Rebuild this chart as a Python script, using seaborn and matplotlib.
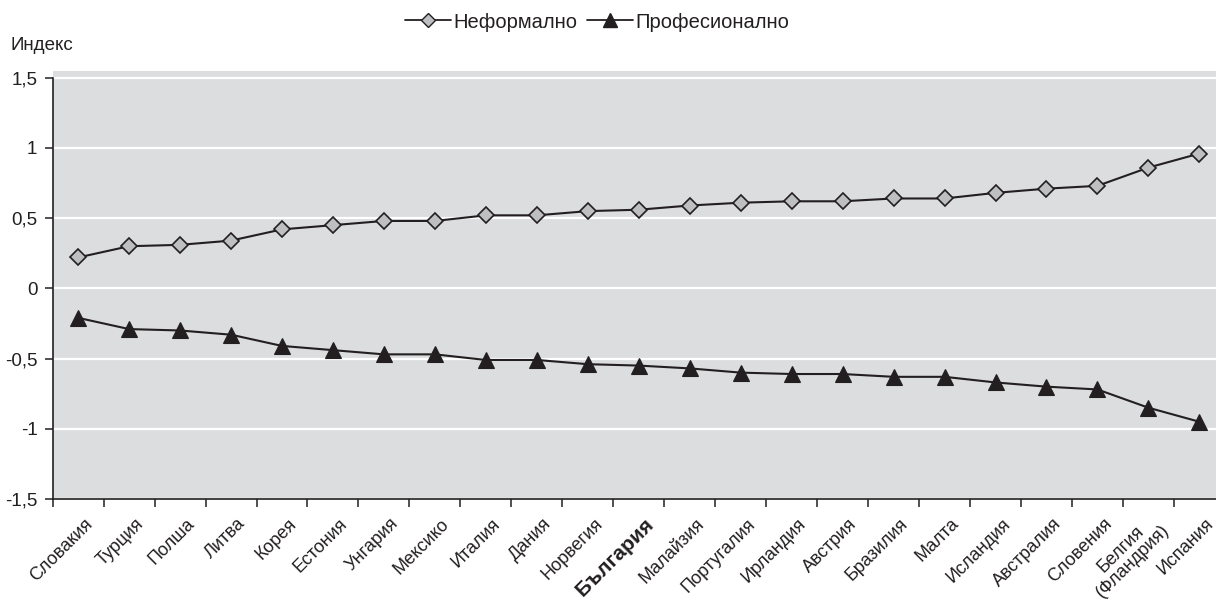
import numpy as np
import pandas as pd
import matplotlib
matplotlib.use("Agg")
import matplotlib.pyplot as plt
import matplotlib.transforms as mtransforms
from matplotlib.lines import Line2D
from matplotlib.ticker import FixedLocator, FuncFormatter
import seaborn as sns

countries = [
    "Словакия", "Турция", "Полша", "Литва", "Корея", "Естония", "Унгария",
    "Мексико", "Италия", "Дания", "Норвегия", "България", "Малайзия",
    "Португалия", "Ирландия", "Австрия", "Бразилия", "Малта", "Исландия",
    "Австралия", "Словения", "Белгия\n(Фландрия)", "Испания",
]
informal = [0.22, 0.30, 0.31, 0.34, 0.42, 0.45, 0.48, 0.48, 0.52, 0.52, 0.55,
            0.56, 0.59, 0.61, 0.62, 0.62, 0.64, 0.64, 0.68, 0.71, 0.73, 0.86, 0.96]
professional = [-0.21, -0.29, -0.30, -0.33, -0.41, -0.44, -0.47, -0.47, -0.51,
                -0.51, -0.54, -0.55, -0.57, -0.60, -0.61, -0.61, -0.63, -0.63,
                -0.67, -0.70, -0.72, -0.85, -0.95]
series_names = ["Неформално", "Професионално"]
y_ticks = [-1.5, -1.0, -0.5, 0.0, 0.5, 1.0, 1.5]

FONT = ["Liberation Sans", "DejaVu Sans"]

sns.set_theme(style="white")
plt.rcParams["font.family"] = FONT

INK = "#231F20"
PANEL = "#DCDDDF"

df = pd.DataFrame({
    "country": countries * 2,
    "value": informal + professional,
    "series": [series_names[0]] * len(countries) + [series_names[1]] * len(countries),
})

fig = plt.figure(figsize=(12.16, 6.02), dpi=100)
ax = fig.add_axes([0.0433, 0.1711, 0.964, 0.711])
ax.set_facecolor(PANEL)

sns.lineplot(data=df[df.series == series_names[0]], x="country", y="value",
             ax=ax, color=INK, linewidth=1.5, marker="D", markersize=8,
             markerfacecolor="#BEBFC1", markeredgecolor=INK, markeredgewidth=1.2,
             sort=False, legend=False)
sns.lineplot(data=df[df.series == series_names[1]], x="country", y="value",
             ax=ax, color=INK, linewidth=1.5, marker="^", markersize=12,
             markerfacecolor=INK, markeredgecolor=INK, markeredgewidth=0.8,
             sort=False, legend=False)

ax.set_xlim(-0.5, len(countries) - 0.5)
ax.set_ylim(-1.5, 1.548)

# horizontal white grid
ax.yaxis.set_major_locator(FixedLocator(y_ticks))
ax.yaxis.set_major_formatter(FuncFormatter(
    lambda v, p: ("%g" % v).replace(".", ",")))
ax.grid(axis="y", color="white", linewidth=1.6)
ax.grid(axis="x", visible=False)
ax.set_axisbelow(True)

for s in ["top", "right"]:
    ax.spines[s].set_visible(False)
for s in ["left", "bottom"]:
    ax.spines[s].set_color(INK)
    ax.spines[s].set_linewidth(1.2)
ax.spines["left"].set_bounds(-1.5, 1.5)

ax.tick_params(axis="y", which="major", direction="out", length=6, width=1.1,
               color=INK, left=True, labelsize=13.5, labelcolor=INK, pad=5)

# category labels on the points, tick marks between categories
ax.set_xticks(range(len(countries)))
ax.set_xticks(np.arange(-0.5, len(countries), 1.0), minor=True)
ax.tick_params(axis="x", which="major", length=0, pad=16)
ax.tick_params(axis="x", which="minor", direction="out", length=6, width=1.1,
               color=INK, bottom=True)
ax.set_xticklabels(countries)
offset = mtransforms.ScaledTranslation(12 / 100, 0, fig.dpi_scale_trans)
for lab in ax.get_xticklabels():
    lab.set_rotation(45)
    lab.set_ha("right")
    lab.set_va("center")
    lab.set_rotation_mode("anchor")
    lab.set_fontsize(13)
    lab.set_color(INK)
    lab.set_multialignment("center")
    lab.set_transform(lab.get_transform() + offset)
    if lab.get_text() == "България":
        lab.set_fontweight("bold")
        lab.set_fontsize(15)
    if "\n" in lab.get_text():
        lab.set_linespacing(0.95)
ax.set_xlabel("")
ax.set_ylabel("")

fig.text(10 / 1216, 1 - 45 / 602, "Индекс", ha="left", va="center",
         fontsize=13.5, color=INK)

handles = [
    Line2D([], [], color=INK, linewidth=1.3, marker="D", markersize=7,
           markerfacecolor="#BEBFC1", markeredgecolor=INK),
    Line2D([], [], color=INK, linewidth=1.3, marker="^", markersize=10,
           markerfacecolor=INK, markeredgecolor=INK),
]
fig.legend(handles, series_names, loc="center", bbox_to_anchor=(0.491, 1 - 22 / 602),
           ncol=2, frameon=False, fontsize=14.5, handlelength=2.3,
           handletextpad=0.1, columnspacing=0.5, labelcolor=INK)

fig.savefig("out.png", dpi=100, facecolor="white")
